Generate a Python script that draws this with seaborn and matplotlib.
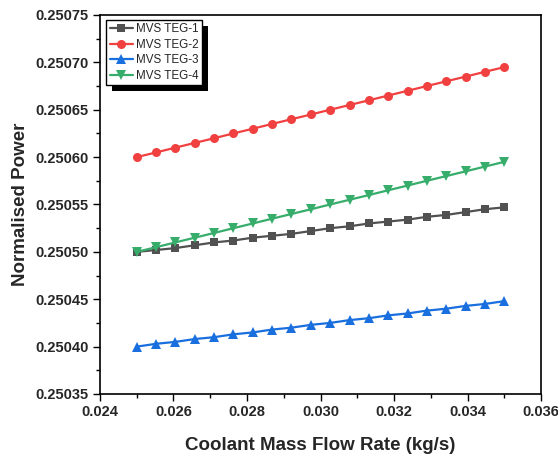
import matplotlib
matplotlib.use("Agg")
import matplotlib.pyplot as plt
import seaborn as sns
import pandas as pd
from matplotlib.patches import Rectangle
from matplotlib.ticker import MultipleLocator, FormatStrFormatter

flow = [0.02500, 0.02553, 0.02605, 0.02658, 0.02711, 0.02763, 0.02816, 0.02868,
        0.02921, 0.02974, 0.03026, 0.03079, 0.03132, 0.03184, 0.03237, 0.03289,
        0.03342, 0.03395, 0.03447, 0.03500]

teg1 = [0.250500, 0.250502, 0.250504, 0.250507, 0.250510, 0.250512, 0.250515,
        0.250517, 0.250519, 0.250522, 0.250525, 0.250527, 0.250530, 0.250532,
        0.250534, 0.250537, 0.250539, 0.250542, 0.250545, 0.250547]
teg2 = [0.250600, 0.250605, 0.250610, 0.250615, 0.250620, 0.250625, 0.250630,
        0.250635, 0.250640, 0.250645, 0.250650, 0.250655, 0.250660, 0.250665,
        0.250670, 0.250675, 0.250680, 0.250685, 0.250690, 0.250695]
teg3 = [0.250400, 0.250403, 0.250405, 0.250408, 0.250410, 0.250413, 0.250415,
        0.250418, 0.250420, 0.250423, 0.250425, 0.250428, 0.250430, 0.250433,
        0.250435, 0.250438, 0.250440, 0.250443, 0.250445, 0.250448]
teg4 = [0.250500, 0.250505, 0.250510, 0.250515, 0.250520, 0.250525, 0.250530,
        0.250535, 0.250540, 0.250545, 0.250550, 0.250555, 0.250560, 0.250565,
        0.250570, 0.250575, 0.250580, 0.250585, 0.250590, 0.250595]

names = ["MVS TEG-1", "MVS TEG-2", "MVS TEG-3", "MVS TEG-4"]
series = [teg1, teg2, teg3, teg4]
colors = ["#515151", "#F14040", "#1A6FDF", "#37AD6B"]
markers = ["s", "o", "^", "v"]
msizes = [6.0, 6.5, 7.0, 7.0]

sns.set_theme(style="ticks")
plt.rcParams["font.family"] = ["Liberation Sans", "DejaVu Sans"]

fig = plt.figure(figsize=(5.58, 4.59), dpi=100)
ax = fig.add_axes([100 / 558, 1 - 394 / 459, 441 / 558, 379 / 459])

for name, vals, c, m, ms in zip(names, series, colors, markers, msizes):
    df = pd.DataFrame({"x": flow, "y": vals})
    sns.lineplot(data=df, x="x", y="y", ax=ax, color=c, marker=m,
                 markersize=ms, markeredgewidth=0, linewidth=1.6, label=name)

ax.set_xlim(0.024, 0.036)
ax.set_ylim(0.25035, 0.25075)
ax.xaxis.set_major_locator(MultipleLocator(0.002))
ax.xaxis.set_minor_locator(MultipleLocator(0.001))
ax.yaxis.set_major_locator(MultipleLocator(0.00005))
ax.yaxis.set_minor_locator(MultipleLocator(0.000025))
ax.xaxis.set_major_formatter(FormatStrFormatter("%.3f"))
ax.yaxis.set_major_formatter(FormatStrFormatter("%.5f"))
ax.tick_params(axis="both", which="major", direction="out", length=5, width=1,
               labelsize=10.5, color="black", pad=3)
ax.tick_params(axis="both", which="minor", direction="out", length=3, width=1,
               color="black")
for lab in ax.get_xticklabels() + ax.get_yticklabels():
    lab.set_fontweight("bold")
for sp in ax.spines.values():
    sp.set_visible(True)
    sp.set_color("black")
    sp.set_linewidth(1.2)

ax.set_xlabel("Coolant Mass Flow Rate (kg/s)", fontsize=13.5, fontweight="bold",
              labelpad=13)
ax.set_ylabel("Normalised Power", fontsize=13.5, fontweight="bold", labelpad=4.5)

leg = ax.legend(loc="upper left", bbox_to_anchor=(0.014, 0.987), fontsize=8.4,
                frameon=True, fancybox=False, framealpha=1, edgecolor="black",
                borderpad=0.3, labelspacing=0.3, handlelength=2.0,
                handletextpad=0.25, borderaxespad=0)
leg.get_frame().set_linewidth(1.0)

fig.canvas.draw()
bb = leg.get_window_extent().transformed(fig.transFigure.inverted())
off_x = 6 / 558
off_y = 6 / 459
shadow = Rectangle((bb.x0 + off_x, bb.y0 - off_y), bb.width, bb.height,
                   transform=fig.transFigure, facecolor="black", edgecolor="none",
                   zorder=4.9, clip_on=False)
ax.add_artist(shadow)

fig.savefig("out.png", dpi=100)
